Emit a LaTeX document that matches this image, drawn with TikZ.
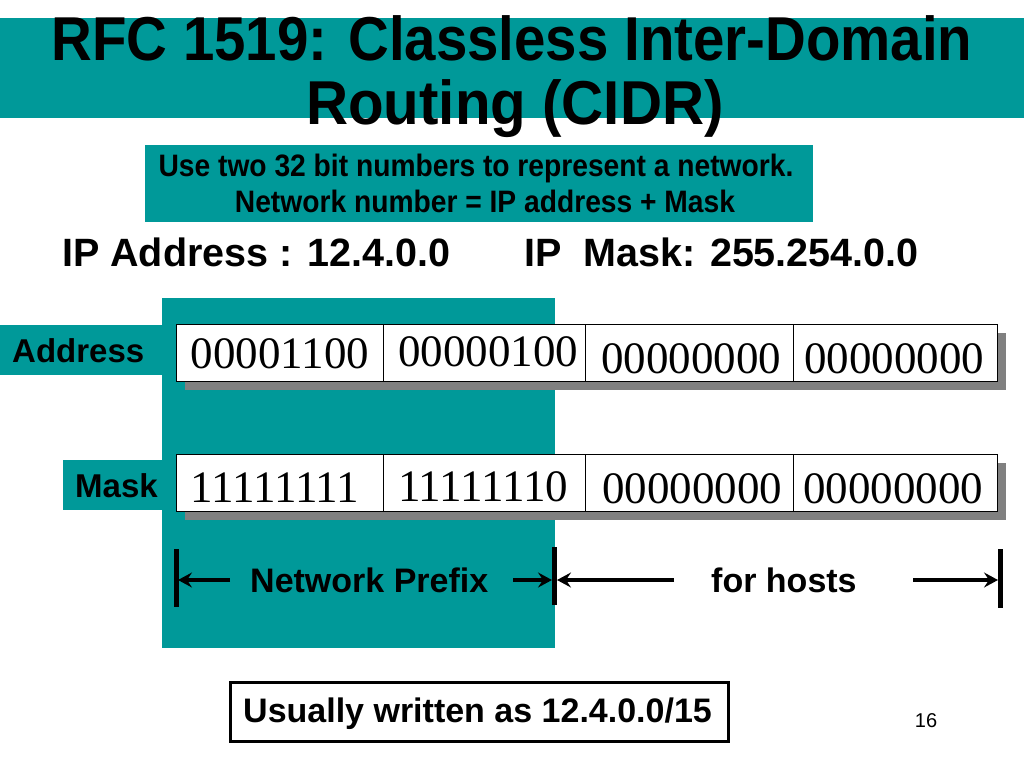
\documentclass[tikz,border=0pt]{standalone}
\usepackage{graphicx}
\usepackage{fontspec}
\setmainfont{Liberation Sans}
\newfontfamily\numfont{Liberation Serif}
\usetikzlibrary{arrows.meta}
\definecolor{tealbg}{RGB}{0,153,153}
\definecolor{shadowgray}{RGB}{128,128,128}
\tikzset{
  fsz/.style={font=\bfseries\fontsize{#1}{#1}\selectfont},
  cell/.style={draw=black, line width=1pt, fill=white, minimum height=57pt, inner sep=0pt, anchor=north west},
  bits/.style={anchor=base, font=\numfont\fontsize{45}{45}\selectfont, inner sep=0pt},
  shadowbox/.style={fill=shadowgray},
  bar/.style={line width=5pt},
  dimarrow/.style={line width=4pt, -{Stealth[length=14pt,width=15pt,inset=5pt]}},
  txt/.style={inner sep=0pt}
}
\begin{document}
\begin{tikzpicture}[x=1pt,y=-1pt]
\useasboundingbox (0,0) rectangle (1024,768);
% title band
\fill[tealbg] (0,18) rectangle (1024,118);
\node[txt, anchor=base, fsz=62] (t1) at (512,60) {\scalebox{0.91}[1]{RFC 1519: Classless Inter-Domain}};
\node[txt, anchor=base, fsz=62] (t2) at (515,124) {\scalebox{0.94}[1]{Routing (CIDR)}};
% subtitle box
\fill[tealbg] (145,145) rectangle (813,222);
\node[txt, anchor=base, fsz=31] (s1) at (476,176) {\scalebox{0.91}[1]{Use two 32 bit numbers to represent a network.}};
\node[txt, anchor=base, fsz=31] (s2) at (485,212) {\scalebox{0.91}[1]{Network number = IP address + Mask}};
% IP lines
\node[txt, anchor=base west, fsz=39.5] (ipa) at (62,266) {IP Address : 12.4.0.0};
\node[txt, anchor=base west, fsz=39.5] (ipm) at (524,266) {IP\ \ Mask: 255.254.0.0};
% teal backgrounds
\fill[tealbg] (162,298) rectangle (555,648);
\fill[tealbg] (0,325) rectangle (163,375);
\fill[tealbg] (63,460) rectangle (163,510);
\node[txt, anchor=base west, fsz=33] (la) at (12,362) {Address};
\node[txt, anchor=base west, fsz=33] (lm) at (75,497) {Mask};
% shadows
\fill[shadowgray] (185,333) rectangle (1006,390);
\fill[shadowgray] (185,463) rectangle (1006,520);
% address row
\node[cell, minimum width=207pt] (a1) at (176,324) {};
\node[cell, minimum width=202pt] (a2) at (383,324) {};
\node[cell, minimum width=208pt] (a3) at (585,324) {};
\node[cell, minimum width=204pt] (a4) at (793,324) {};
\node[bits] at (280,368) {00001100};
\node[bits] at (488,366) {00000100};
\node[bits] at (691,373) {00000000};
\node[bits] at (894,373) {00000000};
% mask row
\node[cell, minimum width=207pt] (m1) at (176,454) {};
\node[cell, minimum width=202pt] (m2) at (383,454) {};
\node[cell, minimum width=208pt] (m3) at (585,454) {};
\node[cell, minimum width=204pt] (m4) at (793,454) {};
\node[bits] at (275,502) {11111111};
\node[bits] at (483,501) {11111110};
\node[bits] at (692,503) {00000000};
\node[bits] at (893,503) {00000000};
% dimension bars
\coordinate (b1t) at (176,549); \coordinate (b1b) at (176,607);
\coordinate (b2t) at (554,547); \coordinate (b2b) at (554,605);
\coordinate (b3t) at (1000,549); \coordinate (b3b) at (1000,608);
\draw[bar] (b1t) -- (b1b);
\draw[bar] (b2t) -- (b2b);
\draw[bar] (b3t) -- (b3b);
\coordinate (p1s) at (230,580); \coordinate (p1e) at (178,580);
\coordinate (p2s) at (513,580); \coordinate (p2e) at (552,580);
\coordinate (h1s) at (674,580); \coordinate (h1e) at (557,580);
\coordinate (h2s) at (913,580); \coordinate (h2e) at (998,580);
\draw[dimarrow] (p1s) -- (p1e);
\draw[dimarrow] (p2s) -- (p2e);
\draw[dimarrow] (h1s) -- (h1e);
\draw[dimarrow] (h2s) -- (h2e);
\node[txt, anchor=base west, fsz=34] (np) at (250,592) {Network Prefix};
\node[txt, anchor=base west, fsz=34] (fh) at (711,592) {for hosts};
% bottom box
\node[draw=black, line width=3pt, fill=white, minimum width=498pt, minimum height=59pt, anchor=north west, inner sep=0pt] (ub) at (229,681) {};
\node[txt, anchor=base west, fsz=34] (ut) at (243,722) {Usually written as 12.4.0.0/15};
\node[txt, anchor=base, font=\fontsize{20}{20}\selectfont] (pg) at (926,727) {16};
\end{tikzpicture}
\end{document}
